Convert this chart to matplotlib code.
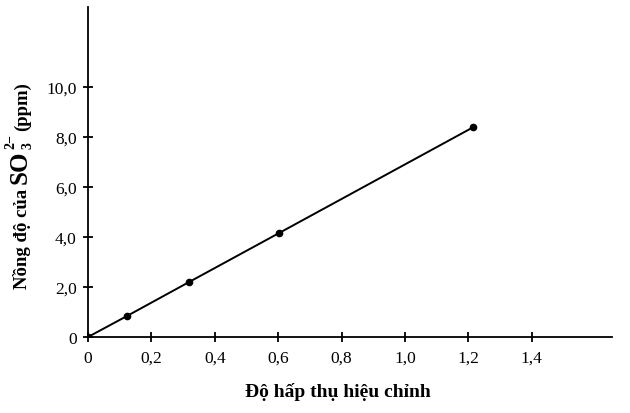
import matplotlib.pyplot as plt
import numpy as np

plt.rcParams['font.family'] = ['Liberation Serif', 'DejaVu Serif']

# calibration data
absorbance = [0, 0.123, 0.319, 0.603, 1.215]
conc = [0, 0.84, 2.2, 4.16, 8.39]

x_ticks = [0, 0.2, 0.4, 0.6, 0.8, 1.0, 1.2, 1.4]
x_labels = ['0', '0,2', '0,4', '0,6', '0,8', '1,0', '1,2', '1,4']
y_ticks = [0, 2, 4, 6, 8, 10]
y_labels = ['0', '2,0', '4,0', '6,0', '8,0', '10,0']

W, H = 630, 414
fig = plt.figure(figsize=(W / 100, H / 100), dpi=100)
ax = fig.add_axes([88 / W, 76 / H, 524 / W, 330 / H])

ax.plot(absorbance, conc, 'k-', lw=1.4, marker='o', ms=4.5)

ax.set_xlim(0, 1.653)
ax.set_ylim(0, 13.2)
ax.set_xticks(x_ticks)
ax.set_xticklabels(x_labels)
ax.set_yticks(y_ticks)
ax.set_yticklabels(y_labels)

for s in ['top', 'right']:
    ax.spines[s].set_visible(False)
for s in ['left', 'bottom']:
    ax.spines[s].set_linewidth(1.3)
ax.tick_params(direction='inout', length=7.5, width=1.3, labelsize=12.5)
ax.tick_params(axis='x', pad=5.5)
ax.tick_params(axis='y', pad=4.5)
ax.patch.set_alpha(0)

# x axis title
fig.text(338 / W, 17 / H, 'Độ hấp thụ hiệu chỉnh', ha='center', va='baseline',
         fontsize=14, fontweight='bold')

# y axis title built from pieces so that SO can be bigger
fig.canvas.draw()
r = fig.canvas.get_renderer()


def vtext(xpx, ypx, txt, size):
    t = fig.text(xpx / W, ypx / H, txt, rotation=90, rotation_mode='anchor',
                 ha='left', va='baseline', fontsize=size, fontweight='bold')
    return t.get_window_extent(r).y1


y0 = vtext(27, 125, 'Nồng độ của', 13.5) + 5
y0 = vtext(27, y0, 'SO', 18) + 1
top_sub = vtext(32, y0, '3', 10)
top_sup = vtext(14, y0, '2−', 10)
vtext(27, max(top_sub, top_sup) + 4, '(ppm)', 13.5)

plt.savefig('out.png', dpi=100)
